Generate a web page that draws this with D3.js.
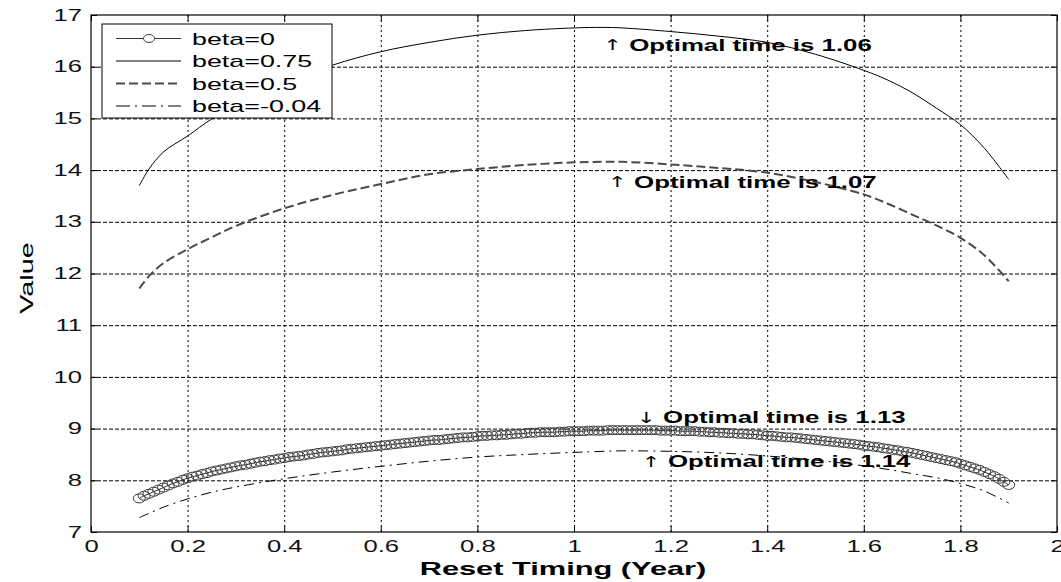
<!DOCTYPE html>
<html>
<head>
<meta charset="utf-8">
<script src="https://cdn.jsdelivr.net/npm/d3@7"></script>
<style>
  body { margin: 0; background: #fff; }
  text { font-family: "Liberation Sans", Arial, sans-serif; }
</style>
</head>
<body>
<div id="chart"></div>
<script>
// beta=0 is drawn with dense circle markers, one every 0.01 year from 0.10 to 1.90
const markerTiming = d3.range(10, 191).map(i => i / 100);
const beta0 = [
  7.65, 7.70, 7.74, 7.78, 7.82, 7.86, 7.90, 7.94, 7.97, 8.01,
  8.04, 8.07, 8.09, 8.12, 8.14, 8.17, 8.19, 8.21, 8.23, 8.25,
  8.27, 8.29, 8.30, 8.32, 8.34, 8.36, 8.37, 8.39, 8.40, 8.42,
  8.43, 8.45, 8.46, 8.47, 8.48, 8.50, 8.51, 8.53, 8.54, 8.55,
  8.56, 8.57, 8.58, 8.60, 8.61, 8.62, 8.63, 8.64, 8.65, 8.66,
  8.67, 8.68, 8.69, 8.70, 8.71, 8.72, 8.73, 8.74, 8.75, 8.76,
  8.77, 8.78, 8.78, 8.79, 8.80, 8.81, 8.82, 8.83, 8.83, 8.84,
  8.85, 8.86, 8.86, 8.87, 8.87, 8.88, 8.88, 8.89, 8.90, 8.90,
  8.91, 8.92, 8.92, 8.93, 8.93, 8.93, 8.93, 8.94, 8.94, 8.95,
  8.95, 8.95, 8.95, 8.96, 8.96, 8.96, 8.96, 8.97, 8.97, 8.97,
  8.97, 8.97, 8.97, 8.97, 8.97, 8.97, 8.97, 8.97, 8.96, 8.96,
  8.96, 8.96, 8.95, 8.95, 8.95, 8.95, 8.94, 8.94, 8.93, 8.93,
  8.92, 8.92, 8.91, 8.91, 8.90, 8.90, 8.89, 8.89, 8.88, 8.87,
  8.86, 8.86, 8.85, 8.84, 8.83, 8.83, 8.82, 8.81, 8.80, 8.79,
  8.78, 8.77, 8.76, 8.75, 8.74, 8.73, 8.72, 8.71, 8.70, 8.69,
  8.67, 8.66, 8.65, 8.64, 8.62, 8.61, 8.59, 8.58, 8.56, 8.55,
  8.53, 8.51, 8.49, 8.47, 8.45, 8.43, 8.41, 8.39, 8.37, 8.35,
  8.32, 8.29, 8.26, 8.23, 8.20, 8.16, 8.12, 8.08, 8.03, 7.97,
  7.91];

// the other three curves share these sample times
const lineTiming = [0.10, 0.12, 0.15, 0.20, 0.25, 0.30, 0.40, 0.50, 0.60, 0.70,
  0.80, 0.90, 1.00, 1.06, 1.10, 1.20, 1.30, 1.40, 1.50, 1.60, 1.65, 1.70, 1.75, 1.80, 1.85, 1.90];
const beta075 = [13.70, 14.02, 14.35, 14.66, 14.99, 15.25, 15.68, 16.03, 16.29, 16.47,
  16.61, 16.70, 16.75, 16.76, 16.75, 16.68, 16.59, 16.47, 16.24, 15.93, 15.74, 15.50, 15.20, 14.88, 14.42, 13.82];
const beta05 = [11.71, 11.95, 12.20, 12.47, 12.70, 12.92, 13.26, 13.52, 13.73, 13.92,
  14.02, 14.10, 14.15, 14.16, 14.16, 14.11, 14.04, 13.95, 13.77, 13.53, 13.35, 13.14, 12.93, 12.69, 12.35, 11.85];
const betaNeg = [7.28, 7.36, 7.48, 7.64, 7.77, 7.87, 8.03, 8.16, 8.27, 8.37,
  8.45, 8.50, 8.54, 8.56, 8.57, 8.56, 8.53, 8.47, 8.39, 8.28, 8.21, 8.13, 8.05, 7.94, 7.79, 7.56];

const legendLabels = ["beta=0", "beta=0.75", "beta=0.5", "beta=-0.04"];

const xTicks = [0, 0.2, 0.4, 0.6, 0.8, 1, 1.2, 1.4, 1.6, 1.8, 2];
const yTicks = [7, 8, 9, 10, 11, 12, 13, 14, 15, 16, 17];

const annTime = [1.06, 1.07, 1.13, 1.14];
const annValue = [16.42, 13.77, 9.22, 8.37];
const annArrow = ["\u2191", "\u2191", "\u2193", "\u2191"];
const annText = ["Optimal time is 1.06", "Optimal time is 1.07",
  "Optimal time is 1.13", "Optimal time is 1.14"];

const width = 1061, height = 582;
const box = { left: 91, right: 1057, top: 15, bottom: 532 };
const WIDE = 1.6; // the picture's lettering is drawn wide along the baseline

const x = d3.scaleLinear().domain([0, 2]).range([box.left, box.right]);
const y = d3.scaleLinear().domain([7, 17]).range([box.bottom, box.top]);

const svg = d3.select("#chart").append("svg")
  .attr("width", width).attr("height", height);

// grid
svg.append("g")
  .attr("transform", "translate(0," + box.bottom + ")")
  .call(d3.axisBottom(x).tickValues(xTicks.slice(1, -1)).tickSize(-(box.bottom - box.top)).tickFormat(""))
  .call(g => g.select(".domain").remove())
  .selectAll("line").attr("stroke", "#000").attr("stroke-dasharray", "2,3");
svg.append("g")
  .attr("transform", "translate(" + box.left + ",0)")
  .call(d3.axisLeft(y).tickValues(yTicks.slice(1, -1)).tickSize(-(box.right - box.left)).tickFormat(""))
  .call(g => g.select(".domain").remove())
  .selectAll("line").attr("stroke", "#000").attr("stroke-dasharray", "4,2");

// axes with inward ticks
const xAxis = svg.append("g")
  .attr("transform", "translate(0," + box.bottom + ")")
  .call(d3.axisBottom(x).tickValues(xTicks).tickSize(-6).tickPadding(9).tickFormat(d3.format("")));
const yAxis = svg.append("g")
  .attr("transform", "translate(" + box.left + ",0)")
  .call(d3.axisLeft(y).tickValues(yTicks).tickSize(-6).tickPadding(9));
svg.append("g")
  .attr("transform", "translate(0," + box.top + ")")
  .call(d3.axisTop(x).tickValues(xTicks).tickSize(-6).tickFormat(""));
svg.append("g")
  .attr("transform", "translate(" + box.right + ",0)")
  .call(d3.axisRight(y).tickValues(yTicks).tickSize(-6).tickFormat(""));
svg.selectAll(".domain").remove();
svg.selectAll(".tick line").filter(function () { return !this.getAttribute("stroke-dasharray"); })
  .attr("stroke", "#000");

xAxis.selectAll("text")
  .attr("font-size", 16).attr("fill", "#111")
  .attr("font-family", "Liberation Sans, Arial, sans-serif")
  .attr("transform", "scale(" + WIDE + ",1)");
yAxis.selectAll("text")
  .attr("font-size", 16).attr("fill", "#111")
  .attr("font-family", "Liberation Sans, Arial, sans-serif")
  .attr("x", -9 / WIDE)
  .attr("transform", "scale(" + WIDE + ",1)");

// curves
const line = d3.line().x(d => x(d[0])).y(d => y(d[1])).curve(d3.curveCatmullRom);
const pairs = (ts, vs) => ts.map((t, i) => [t, vs[i]]);

svg.append("path").datum(pairs(lineTiming, beta075))
  .attr("d", line).attr("fill", "none").attr("stroke", "#000").attr("stroke-width", 1);
svg.append("path").datum(pairs(lineTiming, beta05))
  .attr("d", line).attr("fill", "none").attr("stroke", "#4a4a4a")
  .attr("stroke-width", 2).attr("stroke-dasharray", "9,4");
svg.append("path").datum(pairs(lineTiming, betaNeg))
  .attr("d", line).attr("fill", "none").attr("stroke", "#000")
  .attr("stroke-width", 1).attr("stroke-dasharray", "10,5,2,5");

const zero = pairs(markerTiming, beta0);
svg.append("path").datum(zero)
  .attr("d", line).attr("fill", "none").attr("stroke", "#333").attr("stroke-width", 1);
svg.append("g").selectAll("ellipse").data(zero).join("ellipse")
  .attr("cx", d => x(d[0])).attr("cy", d => y(d[1]))
  .attr("rx", 6).attr("ry", 4.5)
  .attr("fill", "none").attr("stroke", "#3a3a3a").attr("stroke-width", 1);

// axes box
svg.append("rect")
  .attr("x", box.left).attr("y", box.top)
  .attr("width", box.right - box.left).attr("height", box.bottom - box.top)
  .attr("fill", "none").attr("stroke", "#000").attr("stroke-width", 1.2);

function wideText(tx, ty, str, size, opts) {
  opts = opts || {};
  return svg.append("text")
    .attr("transform", "translate(" + tx + "," + ty + ")" + (opts.rotate ? " rotate(" + opts.rotate + ")" : "") +
      " scale(" + (opts.wide || WIDE) + ",1)")
    .attr("font-size", size)
    .attr("font-weight", opts.bold ? "bold" : "normal")
    .attr("text-anchor", opts.anchor || "start")
    .attr("dominant-baseline", opts.baseline || "auto")
    .attr("fill", "#000")
    .text(str);
}

// annotations: arrow glyph from DejaVu (taller), then the words
annText.forEach((s, i) => {
  const t = wideText(x(annTime[i]), y(annValue[i]), "", 17, { bold: true, wide: 1.52, baseline: "central" });
  t.append("tspan").attr("font-family", "DejaVu Sans").attr("font-weight", "normal")
    .attr("font-size", 15).text(annArrow[i]);
  t.append("tspan").text(" " + s);
});

// axis titles
wideText(563, 575, "Reset Timing (Year)", 19, { bold: true, anchor: "middle", wide: 1.62 });
wideText(27, 278, "Value", 18, { rotate: -90, anchor: "middle", baseline: "central" });

// legend
const lg = svg.append("g");
lg.append("rect").attr("x", 102).attr("y", 24).attr("width", 230).attr("height", 94)
  .attr("fill", "#fff").attr("stroke", "#000").attr("stroke-width", 1);
const legendStyles = [
  { stroke: "#333", width: 1, dash: null, marker: true },
  { stroke: "#000", width: 1, dash: null },
  { stroke: "#4a4a4a", width: 2, dash: "9,4" },
  { stroke: "#000", width: 1, dash: "14,5,2,5" }
];
legendLabels.forEach((lab, i) => {
  const ry = 38.5 + i * 22.5;
  const st = legendStyles[i];
  lg.append("line").attr("x1", 116).attr("x2", 181).attr("y1", ry).attr("y2", ry)
    .attr("stroke", st.stroke).attr("stroke-width", st.width)
    .attr("stroke-dasharray", st.dash);
  if (st.marker) {
    lg.append("ellipse").attr("cx", 149).attr("cy", ry).attr("rx", 5.5).attr("ry", 4)
      .attr("fill", "#fff").attr("stroke", "#444");
  }
  wideText(192, ry + 6, lab, 17, { wide: 1.58 });
});
</script>
</body>
</html>
